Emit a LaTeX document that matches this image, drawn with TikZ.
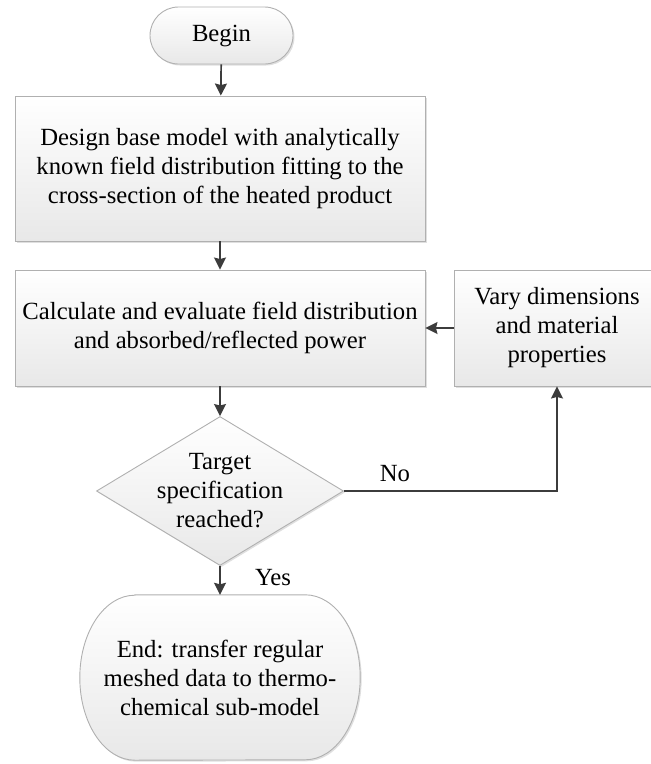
\documentclass[tikz,border=0pt]{standalone}
\usepackage{fontspec}
\setmainfont{Liberation Serif}
\usetikzlibrary{shapes.geometric,arrows.meta,shadows}
\definecolor{edgegray}{HTML}{B0B0B0}
\definecolor{arrgray}{HTML}{3C3C3C}
\tikzset{
  boxbase/.style={draw=edgegray,line width=0.9pt,top color=white,bottom color=black!9,
    drop shadow={shadow xshift=1.5pt,shadow yshift=-1.5pt,opacity=0.25}},
  procbox/.style={boxbase,rectangle,inner sep=0pt,align=center},
  flowarrow/.style={draw=arrgray,line width=1.7pt,-{Stealth[width=12pt,length=12pt,inset=1.5pt]}},
  txt/.style={inner sep=0pt,align=center},
  every node/.style={font=\fontsize{24.7pt}{29pt}\selectfont}
}
\begin{document}
\begin{tikzpicture}[x=1pt,y=1pt]
\useasboundingbox (0,0) rectangle (651,-764);
% Begin terminator
\node[procbox,rounded corners=28.5pt,minimum width=143pt,minimum height=57pt] (begin) at (221.5,-35.5) {Begin};
% Box 1
\node[procbox,minimum width=410pt,minimum height=145pt] (design) at (220,-168.5)
  {Design base model with analytically\\known field distribution fitting to the\\cross-section of the heated product};
% Box 2
\node[procbox,minimum width=410pt,minimum height=116pt] (calc) at (220,-328)
  {Calculate and evaluate field distribution\\and absorbed/reflected power};
% Vary box
\node[procbox,minimum width=206pt,minimum height=116pt] (vary) at (557,-328)
  {Vary dimensions\\and material\\properties};
% Decision
\node[boxbase,diamond,inner sep=0pt,minimum width=247pt,minimum height=149pt] (dia) at (220,-491) {};
\node[txt] (diatext) at (dia.center) {Target\\specification\\reached?};
% End terminator
\node[inner sep=0pt,minimum width=280pt,minimum height=165pt] (endn) at (220,-677.5) {};
\path[boxbase]
  ([xshift=55pt]endn.north west) -- ([xshift=-55pt]endn.north east)
  arc[start angle=90,end angle=0,x radius=55pt,y radius=82.5pt]
  arc[start angle=0,end angle=-90,x radius=55pt,y radius=82.5pt]
  -- ([xshift=55pt]endn.south west)
  arc[start angle=270,end angle=180,x radius=55pt,y radius=82.5pt]
  arc[start angle=180,end angle=90,x radius=55pt,y radius=82.5pt] -- cycle;
\node[txt] (endtext) at (endn.center) {End: transfer regular\\meshed data to thermo-\\chemical sub-model};
% Connectors
\draw[flowarrow] (begin) -- (design);
\draw[flowarrow] (design) -- (calc);
\draw[flowarrow] (calc) -- (dia);
\draw[flowarrow] (dia) -- (endn);
\draw[flowarrow] (vary) -- (calc);
\draw[flowarrow] (dia.east) -| (vary.south);
% Labels
\node[txt] (nolbl) at (395,-474) {No};
\node[txt] (yeslbl) at (273,-578) {Yes};
\end{tikzpicture}
\end{document}
